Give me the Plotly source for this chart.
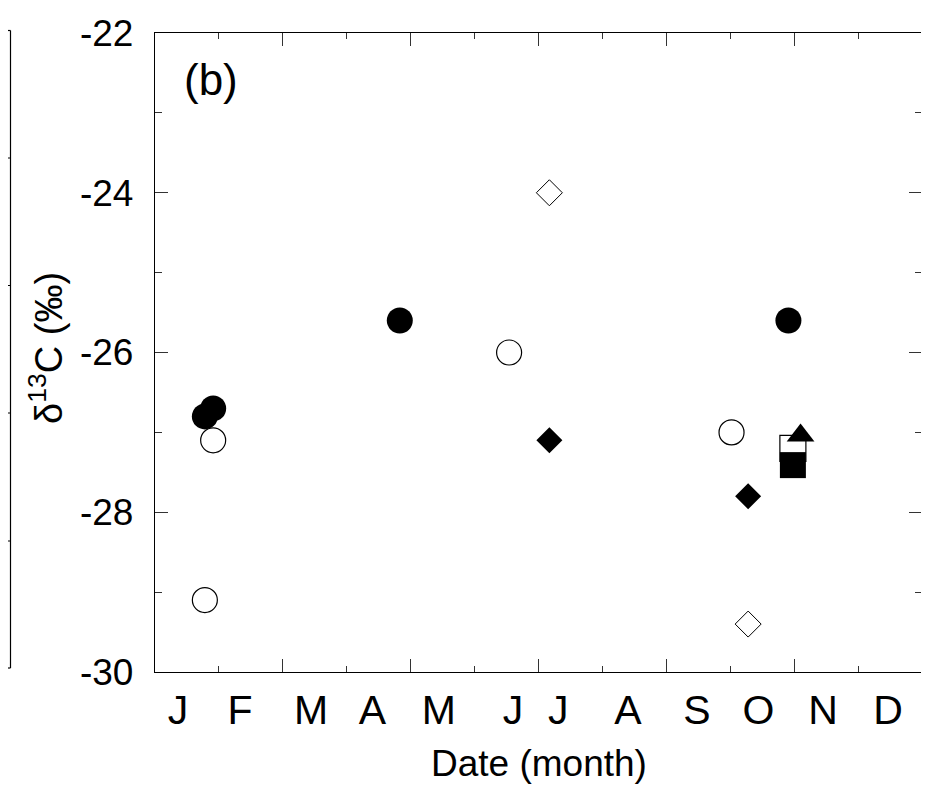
import plotly.graph_objects as go

# ---- data (month index: 0 = start of Jan, 12 = end of Dec) ----
filled_circle_x = [0.78, 0.91, 3.83, 9.91]
filled_circle_y = [-26.8, -26.7, -25.6, -25.6]
open_circle_x = [0.78, 0.91, 5.54, 9.02]
open_circle_y = [-29.1, -27.1, -26.0, -27.0]
filled_diamond_x = [6.17, 9.28]
filled_diamond_y = [-27.1, -27.8]
open_diamond_x = [6.17, 9.28]
open_diamond_y = [-24.0, -29.4]
open_square_x = [9.98]
open_square_y = [-27.2]
filled_square_x = [9.98]
filled_square_y = [-27.41]
filled_triangle_x = [10.10]
filled_triangle_y = [-27.04]

month_labels = ["J", "F", "M", "A", "M", "J", "J", "A", "S", "O", "N", "D"]
month_label_pos = [0.36, 1.33, 2.44, 3.40, 4.44, 5.60, 6.31, 7.40, 8.48, 9.44, 10.45, 11.47]
y_tick_vals = [-30, -28, -26, -24, -22]
y_tick_text = ["-30", "-28", "-26", "-24", "-22"]
y_minor_vals = [-29, -27, -25, -23]

FONT = "Liberation Sans, Arial, Helvetica, sans-serif"
OFF = 8  # page body margin offset
W, H = 929 - OFF, 786 - OFF
# plot area edges in reference (page) pixels
L, R, T, B = 155, 922, 33, 672


def px_x(p):
    return (p - L) / (R - L)


def px_y(p):
    return (B - p) / (B - T)


fig = go.Figure()


def add(x, y, symbol, size, filled, lw=1.2):
    fig.add_trace(go.Scatter(
        x=x, y=y, mode="markers", showlegend=False, hoverinfo="skip",
        marker=dict(symbol=symbol, size=size,
                    color="black" if filled else "white",
                    line=dict(color="black", width=0 if filled else lw)),
    ))


add(open_diamond_x, open_diamond_y, "diamond", 20, False, 1.0)
add(open_circle_x, open_circle_y, "circle", 25, False)
add(filled_circle_x, filled_circle_y, "circle", 26, True)
add(filled_diamond_x, filled_diamond_y, "diamond", 20, True)
add(open_square_x, open_square_y, "square", 26, False)
add(filled_square_x, filled_square_y, "square", 26, True)
add(filled_triangle_x, filled_triangle_y, "triangle-up", 24, True)

# decorative remnant of the neighbouring panel (a)
shapes = []
lx = px_x(10.5)
x0 = px_x(0)
shapes.append(dict(type="line", xref="paper", yref="paper", x0=lx, x1=lx,
                   y0=px_y(30.5), y1=px_y(668), line=dict(color="black", width=1.2)))
shapes.append(dict(type="line", xref="paper", yref="paper", x0=x0, x1=lx,
                   y0=px_y(30.5), y1=px_y(30.5), line=dict(color="black", width=1.2)))
shapes.append(dict(type="line", xref="paper", yref="paper", x0=x0, x1=lx,
                   y0=px_y(668), y1=px_y(668), line=dict(color="black", width=1.2)))
for ty in [158, 285.5, 413, 541]:
    shapes.append(dict(type="line", xref="paper", yref="paper", x0=x0, x1=lx,
                       y0=px_y(ty), y1=px_y(ty), line=dict(color="black", width=1)))

fig.update_layout(
    width=W, height=H,
    margin=dict(l=L - OFF, r=W - (R - OFF), t=T - OFF, b=H - (B - OFF), autoexpand=False),
    paper_bgcolor="white", plot_bgcolor="white",
    font=dict(family=FONT, color="black"),
    shapes=shapes,
    xaxis=dict(
        range=[0, 12], showgrid=False, zeroline=False,
        showline=True, linecolor="black", linewidth=1.3, mirror="ticks",
        ticks="inside", ticklen=13, tickwidth=1, tickcolor="#333",
        tickmode="linear", tick0=0, dtick=2, showticklabels=False,
        minor=dict(ticks="inside", ticklen=6, tickwidth=1, tickcolor="#333",
                   tickmode="linear", tick0=0, dtick=1, showgrid=False),
        fixedrange=True,
    ),
    xaxis2=dict(
        range=[0, 12], overlaying="x", anchor="y", side="bottom",
        showgrid=False, zeroline=False, showline=False, ticks="",
        tickmode="array", tickvals=month_label_pos, ticktext=month_labels,
        tickfont=dict(size=41, family=FONT, color="black"),
        ticklabelstandoff=10, fixedrange=True,
    ),
    yaxis=dict(
        range=[-30, -22], showgrid=False, zeroline=False,
        showline=True, linecolor="black", linewidth=1.3, mirror="ticks",
        ticks="inside", ticklen=13, tickwidth=1, tickcolor="#333",
        tickmode="array", tickvals=y_tick_vals, ticktext=y_tick_text,
        tickfont=dict(size=37, family=FONT, color="black"),
        ticklabelstandoff=13,
        minor=dict(ticks="inside", ticklen=7, tickwidth=1, tickcolor="#333",
                   tickmode="array", tickvals=y_minor_vals, showgrid=False),
        fixedrange=True,
    ),
    annotations=[
        dict(text="(b)", xref="paper", yref="paper", x=px_x(211), y=px_y(80),
             xanchor="center", yanchor="middle", showarrow=False,
             font=dict(size=44, family=FONT, color="black")),
        dict(text="Date (month)", xref="paper", yref="paper", x=px_x(539), y=px_y(763),
             xanchor="center", yanchor="middle", showarrow=False,
             font=dict(size=37, family=FONT, color="black")),
        dict(text="δ<sup>13</sup>C (‰)", xref="paper", yref="paper", x=px_x(46), y=px_y(348),
             xanchor="center", yanchor="middle", textangle=-90, showarrow=False,
             font=dict(size=38, family=FONT, color="black")),
    ],
)

# invisible trace so the label axis is bound to the plot
fig.add_trace(go.Scatter(x=[0], y=[-30], xaxis="x2", mode="markers",
                         marker=dict(opacity=0), showlegend=False, hoverinfo="skip"))

fig.write_html("out.html", config={"displayModeBar": False})
